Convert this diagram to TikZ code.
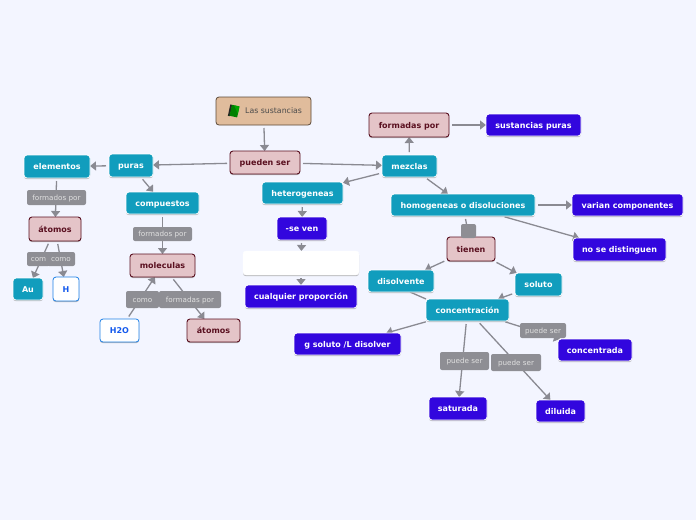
\documentclass[tikz,border=0pt]{standalone}
\usepackage{fontspec}
\setmainfont{DejaVu Sans}
\usetikzlibrary{arrows.meta,shadows}
\pgfdeclarelayer{paper}
\pgfdeclarelayer{edges}
\pgfsetlayers{paper,edges,main}
\definecolor{pagebg}{HTML}{F3F5FF}
\definecolor{tealbox}{HTML}{119DBD}
\definecolor{bluebox}{HTML}{3206DE}
\definecolor{pinkbox}{HTML}{E4C4C8}
\definecolor{maroon}{HTML}{5A1020}
\definecolor{beigebox}{HTML}{E0BC9C}
\definecolor{beigeline}{HTML}{5C4A38}
\definecolor{edgegrey}{HTML}{8A8A92}
\definecolor{labelgrey}{HTML}{8E8E94}
\definecolor{whiteline}{HTML}{1E80E6}
\tikzset{
  x=1pt,y=-1pt,
  base/.style={rounded corners=3pt,inner sep=0pt,outer sep=0pt,text height=6.1pt,text depth=0pt,font=\bfseries\fontsize{8}{10}\selectfont,
    drop shadow={shadow xshift=0pt,shadow yshift=-1.2pt,fill=black!45,opacity=.6}},
  tealnode/.style={base,fill=tealbox,draw=white,line width=.8pt,text=white},
  bluenode/.style={base,fill=bluebox,draw=white,line width=.8pt,text=white},
  pinknode/.style={base,fill=pinkbox,draw=maroon,line width=.9pt,text=maroon},
  whitenode/.style={base,fill=white,draw=whiteline,line width=.8pt,text=whiteline!70!blue},
  blanknode/.style={base,fill=white,draw=white},
  topnode/.style={rounded corners=3pt,inner sep=0pt,outer sep=0pt,fill=beigebox,draw=beigeline,line width=.8pt},
  tag/.style={rounded corners=2pt,inner sep=0pt,outer sep=0pt,fill=labelgrey,text=white!88!black,text height=5pt,text depth=0pt,font=\fontsize{7.2}{8}\selectfont},
  edge/.style={draw=edgegrey,line width=1.3pt,shorten <=3pt,-{Triangle[length=6pt,width=9pt]}},
  plainedge/.style={draw=edgegrey,line width=1.3pt},
}
\newcommand{\bx}[7]{\node[#2,minimum width=#5 pt - #3 pt,minimum height=#6 pt - #4 pt] (#1) at ({(#3+#5)/2},{(#4+#6)/2}) {#7};}
\begin{document}
\begin{tikzpicture}
\useasboundingbox (0,0) rectangle (696,520);
\begin{pgfonlayer}{paper}
\fill[pagebg] (0,0) rectangle (696,520);
\end{pgfonlayer}
% nodes
\bx{top}{topnode}{216}{97}{311}{125}{}
\bx{pueden}{pinknode}{230}{151}{300}{174}{pueden ser}
\bx{puras}{tealnode}{109}{154}{153}{177}{puras}
\bx{elementos}{tealnode}{24}{155}{90}{178}{elementos}
\bx{compuestos}{tealnode}{126}{192}{199}{214}{compuestos}
\bx{atomosa}{pinknode}{29}{217}{81}{241}{átomos}
\bx{moleculas}{pinknode}{130}{254}{195}{277}{moleculas}
\bx{au}{tealnode}{13}{278}{43}{300}{Au}
\bx{h}{whitenode}{53}{277}{79}{301}{H}
\bx{hdos}{whitenode}{100}{319}{139}{342}{H2O}
\bx{atomosb}{pinknode}{187}{319}{240}{342}{átomos}
\bx{hetero}{tealnode}{262}{182}{343}{204}{heterogeneas}
\bx{seven}{bluenode}{277}{217}{327}{240}{-se ven}
\bx{blank}{blanknode}{243}{251}{359}{275}{}
\bx{cualquier}{bluenode}{245}{285}{357}{308}{cualquier proporción}
\bx{gsoluto}{bluenode}{294}{333}{401}{355}{g soluto /L disolver}
\bx{formadas}{pinknode}{369}{113}{449}{137}{formadas por}
\bx{sustancias}{bluenode}{486}{114}{581}{136}{sustancias puras}
\bx{mezclas}{tealnode}{382}{155}{437}{177}{mezclas}
\bx{homog}{tealnode}{391}{194}{535}{216}{homogeneas o disoluciones}
\bx{varian}{bluenode}{572}{194}{683}{216}{varian componentes}
\bx{nose}{bluenode}{573}{238}{666}{261}{no se distinguen}
\bx{tienen}{pinknode}{447}{237}{495}{261}{tienen}
\bx{disolvente}{tealnode}{368}{270}{434}{292}{disolvente}
\bx{soluto}{tealnode}{515}{273}{562}{296}{soluto}
\bx{conc}{tealnode}{426}{299}{509}{321}{concentración}
\bx{concentrada}{bluenode}{558}{339}{632}{361}{concentrada}
\bx{saturada}{bluenode}{429}{397}{487}{420}{saturada}
\bx{diluida}{bluenode}{536}{400}{585}{422}{diluida}
% tags
\bx{tagfa}{tag}{27}{190}{86}{205}{formados por}
\bx{tagfb}{tag}{133}{227}{192}{241}{formados por}
\bx{tagcom}{tag}{27}{252}{50}{266}{com}
\bx{tagcomo}{tag}{47}{252}{75}{266}{como}
\bx{tagcomob}{tag}{126}{291}{159}{308}{como}
\bx{tagformadas}{tag}{159}{291}{221}{308}{formadas por}
\bx{tagempty}{tag}{461}{224}{476}{238}{}
\bx{tagpa}{tag}{520}{323}{566}{338}{puede ser}
\bx{tagpb}{tag}{440}{352}{489}{370}{puede ser}
\bx{tagpc}{tag}{491}{354}{541}{371}{puede ser}
% title text and book icon
\node[anchor=west,inner sep=0pt,text=black!70,font=\fontsize{7.8}{9}\selectfont] (toptext) at (245,111) {Las sustancias};
\begin{scope}[shift={(234,111)},rotate=-12]
  \fill[black!85] (-5,-5.6) rectangle (-3,6);
  \fill[green!50!black] (-3.4,-5.6) rectangle (4.4,5.6);
  \fill[green!65!black] (-1,-5.6) -- (4.4,-5.6) -- (4.4,2) -- cycle;
\end{scope}
% connectors
\begin{pgfonlayer}{edges}
\draw[edge] (top) -- (pueden);
\draw[edge] (pueden) -- (puras);
\draw[edge] (pueden) -- (mezclas);
\draw[edge] (puras) -- (elementos);
\draw[edge] (puras) -- (compuestos);
\draw[edge] (elementos) -- (atomosa);
\draw[edge] (compuestos) -- (moleculas);
\draw[edge] (atomosa) -- (au);
\draw[edge] (atomosa) -- (h);
\draw[edge] (hdos) -- (moleculas);
\draw[edge] (moleculas) -- (atomosb);
\draw[edge] (mezclas) -- (hetero);
\draw[edge] (mezclas) -- (formadas);
\draw[edge] (mezclas) -- (homog);
\draw[edge] (formadas) -- (sustancias);
\draw[edge] (hetero) -- (seven);
\draw[edge] (seven) -- (blank);
\draw[edge] (blank) -- (cualquier);
\draw[edge] (homog) -- (varian);
\draw[edge] (homog) -- (nose);
\draw[edge] (homog) -- (tienen);
\draw[edge] (tienen) -- (disolvente);
\draw[edge] (tienen) -- (soluto);
\draw[edge] (soluto) -- (conc);
\draw[plainedge] ([xshift=9pt]disolvente.south) -- (conc.north west);
\draw[edge] (conc) -- (gsoluto);
\draw[edge] (conc) -- (concentrada);
\draw[edge] (conc) -- (saturada);
\draw[edge] (conc) -- (diluida);
\end{pgfonlayer}
\end{tikzpicture}
\end{document}
